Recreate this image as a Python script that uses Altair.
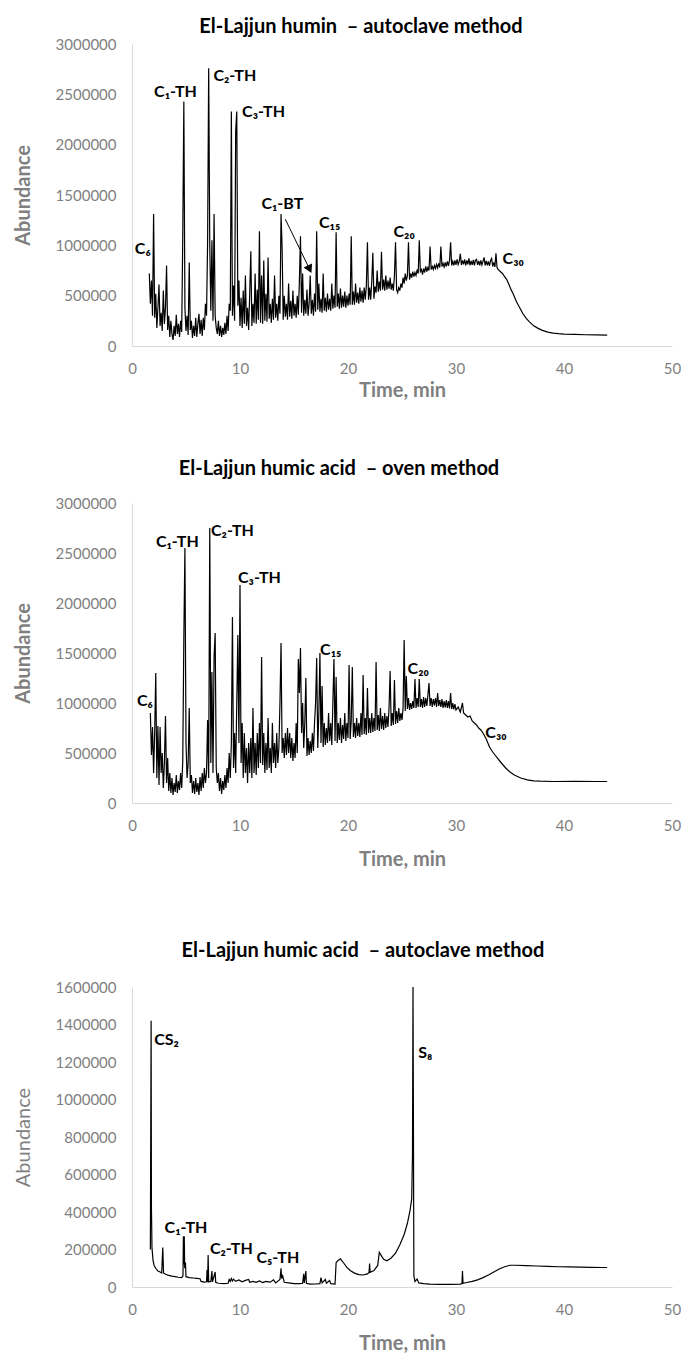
import altair as alt
import pandas as pd

# ---------------- Panel 1: El-Lajjun humin - autoclave ----------------
P1_START, P1_STEP = 1.6, 0.1
P1_K = [
    720, 420, 650, 300, 1310, 280, 520, 180, 380, 610,
    200, 330, 150, 550, 220, 380, 800, 160, 300, 90,
    250, 120, 60, 200, 100, 310, 120, 220, 90, 250,
    140, 1080, 2430, 380, 150, 300, 110, 830, 160, 250,
    80, 200, 100, 280, 90, 220, 320, 120, 260, 100,
    280, 160, 420, 300, 1030, 2760, 1000, 350, 1050, 250,
    1310, 300, 180, 120, 250, 100, 200, 90, 180, 110,
    230, 120, 300, 150, 420, 350, 2330, 300, 600, 250,
    2130, 2330, 400, 650, 200, 480, 180, 550, 220, 700,
    200, 380, 160, 520, 940, 200, 420, 230, 720, 220,
    560, 260, 1140, 230, 700, 220, 850, 250, 520, 240,
    880, 270, 420, 230, 470, 260, 700, 280, 420, 250,
    500, 320, 1310, 970, 260, 500, 290, 420, 260, 620,
    290, 450, 270, 550, 300, 420, 280, 500, 310, 650,
    1090, 330, 720, 300, 460, 320, 560, 300, 420, 700,
    320, 460, 300, 520, 340, 1140, 360, 620, 340, 470,
    330, 720, 350, 480, 340, 520, 360, 470, 350, 620,
    370, 500, 380, 1130, 390, 520, 370, 570, 380, 500,
    390, 540, 380, 500, 400, 520, 410, 1090, 410, 540,
    410, 620, 430, 530, 420, 580, 440, 550, 430, 580,
    460, 600, 1030, 460, 580, 460, 640, 927, 470, 590,
    530, 750, 540, 640, 550, 937, 560, 660, 550, 700,
    560, 650, 570, 680, 560, 620, 550, 700, 1030, 560,
    530, 580, 550, 620, 580, 680, 620, 720, 650, 700,
    1030, 660, 720, 680, 740, 690, 730, 700, 760, 720,
    1050, 740, 760, 710, 770, 730, 790, 740, 780, 750,
    987, 760, 790, 760, 800, 770, 810, 775, 820, 780,
    987, 790, 820, 785, 830, 790, 840, 795, 850, 1030,
    800, 840, 800, 850, 805, 860, 810, 840, 917, 805,
    850, 810, 860, 800, 850, 810, 870, 800, 845, 805,
    855, 800, 850, 860, 805, 845, 800, 850, 805, 840,
    880, 800, 845, 800, 840, 795, 850, 870, 790, 830,
    785, 920, 780, 760,
]
P1_TAIL_T = [34.1, 34.3, 34.5, 34.7, 34.9, 35.1, 35.3, 35.6, 35.9, 36.2, 36.5, 36.8,
             37.2, 37.6, 38.0, 38.5, 39.0, 39.5, 40.0, 41.0, 42.0, 43.0, 44.0]
P1_TAIL_K = [740, 720, 690, 660, 610, 560, 516, 440, 380, 320, 275, 240,
             200, 175, 155, 138, 128, 122, 118, 115, 112, 110, 108]
P1_LABELS = ["C₆", "C₁-TH", "C₂-TH", "C₃-TH", "C₁-BT", "C₁₅", "C₂₀", "C₃₀"]
P1_LABEL_T = [1.0, 4.03, 9.52, 12.18, 13.92, 18.3, 25.2, 35.3]
P1_LABEL_K = [964, 2520, 2680, 2320, 1410, 1220, 1130, 864]
P1_ARROW_T = [14.19, 16.39]
P1_ARROW_K = [1260, 775]

# ---------------- Panel 2: El-Lajjun humic acid - oven ----------------
P2_START, P2_STEP = 1.7, 0.1
P2_K = [
    900, 480, 760, 300, 700, 1300, 250, 770, 180, 760,
    300, 500, 150, 400, 870, 200, 450, 120, 300, 100,
    250, 80, 200, 110, 280, 100, 220, 130, 300, 150,
    420, 1650, 2550, 600, 250, 400, 950, 200, 280, 100,
    220, 90, 250, 110, 200, 80, 260, 120, 300, 150,
    350, 200, 300, 830, 250, 2750, 400, 1310, 300, 1460,
    1700, 350, 200, 300, 120, 250, 90, 220, 130, 280,
    150, 350, 200, 500, 250, 600, 1860, 350, 700, 300,
    1000, 1680, 600, 2180, 400, 800, 250, 700, 300, 550,
    200, 600, 300, 650, 250, 950, 300, 600, 280, 700,
    350, 800, 400, 1460, 380, 700, 300, 600, 330, 850,
    350, 550, 300, 800, 400, 600, 350, 700, 400, 550,
    1000, 1600, 500, 650, 450, 700, 480, 750, 500, 700,
    450, 650, 420, 600, 450, 800, 500, 1440, 1100, 1550,
    700, 1000, 550, 800, 1250, 470, 650, 480, 620, 500,
    700, 520, 800, 1000, 1450, 550, 900, 1500, 600, 1170,
    560, 800, 580, 750, 600, 900, 620, 800, 580, 1000,
    1440, 620, 1260, 600, 800, 630, 850, 600, 780, 640,
    900, 620, 800, 650, 1380, 640, 820, 1360, 660, 800,
    650, 850, 670, 800, 660, 900, 680, 1280, 690, 850,
    680, 1150, 700, 850, 700, 900, 710, 850, 720, 1410,
    730, 880, 720, 950, 740, 870, 730, 900, 750, 870,
    760, 950, 1320, 770, 900, 780, 1230, 790, 920, 800,
    950, 820, 900, 830, 950, 1630, 920, 1270, 940, 1050,
    930, 1000, 940, 1020, 950, 1240, 950, 1050, 960, 1240,
    960, 1040, 950, 1060, 960, 1050, 970, 1080, 1200, 970,
    1050, 960, 1040, 975, 1050, 960, 1100, 970, 1030, 960,
    1040, 950, 1020, 955, 1030, 950, 1020, 945, 1100, 940,
    1000, 935, 990, 930,
]
P2_TAIL_T = [30.2, 30.4, 30.6, 30.7, 30.9, 31.1, 31.3, 31.5, 31.7, 31.9, 32.1, 32.3,
             32.5, 32.8, 33.1, 33.4, 33.75, 34.2, 34.6, 35.0, 35.4, 36.0, 36.6,
             37.2, 37.8, 39.0, 41.0, 43.0, 44.0]
P2_TAIL_K = [960, 910, 1000, 900, 880, 860, 870, 820, 800, 780, 750, 730,
             700, 640, 560, 510, 460, 400, 350, 310, 280, 250, 232,
             222, 218, 215, 216, 215, 215]
P2_LABELS = ["C₆", "C₁-TH", "C₂-TH", "C₃-TH", "C₁₅", "C₂₀", "C₃₀"]
P2_LABEL_T = [1.19, 4.2, 9.3, 11.8, 18.4, 26.5, 33.7]
P2_LABEL_K = [1020, 2610, 2720, 2250, 1530, 1340, 700]

# ---------------- Panel 3: El-Lajjun humic acid - autoclave ----------------
P3_T = [1.70, 1.77, 1.80, 1.85, 1.95, 2.05, 2.20, 2.40, 2.60, 2.75, 2.85, 2.92,
        3.10, 3.40, 3.70, 4.00, 4.30, 4.60, 4.72, 4.76, 4.80, 4.84, 4.88, 4.95,
        5.00, 5.30, 5.70, 6.00, 6.30, 6.40, 6.70, 6.90, 6.95, 7.00, 7.05, 7.10,
        7.30, 7.40, 7.45, 7.70, 7.75, 8.00, 8.50, 8.90, 9.00, 9.10, 9.20, 9.30,
        9.40, 9.60, 9.90, 10.20, 10.50, 10.80, 10.90, 11.20, 11.50, 11.80, 12.10,
        12.40, 12.80, 13.10, 13.30, 13.70, 13.80, 13.85, 13.95, 14.10, 14.50,
        15.00, 15.50, 15.80, 15.90, 15.95, 16.10, 16.15, 16.50, 17.00, 17.40,
        17.50, 17.60, 17.90, 18.00, 18.30, 18.40, 18.80, 18.90, 19.05, 19.30,
        19.60, 19.90, 20.20, 20.60, 21.00, 21.40, 21.80, 21.95, 22.00, 22.05,
        22.40, 22.75, 22.90, 23.00, 23.30, 23.60, 24.00, 24.40, 24.80, 25.20,
        25.50, 25.75, 25.90, 25.97, 26.02, 26.10, 26.20, 26.40, 26.55, 27.00,
        27.60, 28.50, 29.50, 30.40, 30.55, 30.60, 30.65, 31.00, 31.50, 32.00,
        32.50, 33.00, 33.50, 34.00, 34.50, 35.00, 35.50, 36.50, 37.50, 38.50,
        39.50, 40.50, 41.50, 42.50, 43.50, 44.00]
P3_K = [200, 1420, 420, 210, 140, 115, 100, 85, 80, 75, 210, 75,
        68, 62, 58, 55, 52, 50, 60, 270, 120, 270, 100, 130,
        55, 50, 48, 46, 44, 30, 26, 28, 90, 25, 170, 28,
        30, 85, 28, 80, 25, 20, 18, 20, 40, 30, 45, 32,
        42, 30, 38, 28, 35, 40, 25, 30, 25, 32, 24,
        30, 26, 38, 22, 40, 100, 45, 60, 25, 22,
        18, 18, 20, 70, 22, 85, 20, 15, 16, 18,
        50, 22, 40, 20, 35, 18, 16, 130, 140, 150,
        128, 105, 88, 74, 66, 64, 70, 78, 125, 78,
        88, 115, 185, 175, 148, 140, 155, 180, 225, 280,
        340, 410, 470, 700, 1600, 60, 30, 42, 22, 18,
        15, 14, 14, 15, 18, 85, 20, 24, 30, 38,
        50, 64, 80, 96, 108, 116, 116, 114, 112, 110,
        108, 107, 106, 105, 104, 104]
P3_LABELS = ["CS₂", "S₈", "C₁-TH", "C₂-TH", "C₅-TH"]
P3_LABEL_T = [3.2, 27.16, 5.0, 9.2, 13.5]
P3_LABEL_K = [1317, 1250, 315, 203, 155]

TITLES = ["El-Lajjun humin\u00a0 – autoclave method",
          "El-Lajjun humic acid\u00a0 – oven method",
          "El-Lajjun humic acid\u00a0 – autoclave method"]

FONT = "Lato"
GRAY = "#7f7f7f"
AXIS_LINE = "#d9d9d9"
PLOT_W = 540


def grid_frame(start, step, vals_k, tail_t, tail_k):
    t = [round(start + i * step, 2) for i in range(len(vals_k))] + list(tail_t)
    v = [k * 1000 for k in list(vals_k) + list(tail_k)]
    return pd.DataFrame({"t": t, "v": v})


def label_frame(labels, ts, ks):
    return pd.DataFrame({"label": labels, "t": ts, "v": [k * 1000 for k in ks]})


def panel(df, labels_df, title, title_dx, title_offset, ymax, ystep,
          ytitle_bold, xtitle_pad, height, arrow_df=None):
    xscale = alt.Scale(domain=[0, 50], nice=False)
    yscale = alt.Scale(domain=[0, ymax], nice=False)
    yvals = [float(v) for v in range(0, ymax + 1, ystep)]
    xaxis = alt.Axis(values=[0, 10, 20, 30, 40, 50], title="Time, min", grid=False,
                     ticks=False, labelFlush=False, labelOverlap=False,
                     domainColor=AXIS_LINE,
                     labelColor=GRAY, labelFont=FONT, labelFontSize=15, labelPadding=15,
                     titleFont=FONT, titleFontSize=20, titleFontWeight="bold",
                     titleColor=GRAY, titlePadding=xtitle_pad)
    yaxis = alt.Axis(values=yvals, tickCount=len(yvals), format="d", title="Abundance",
                     grid=False, ticks=False, labelOverlap=False, labelSeparation=0,
                     domainColor=AXIS_LINE, labelColor=GRAY,
                     labelFont=FONT, labelFontSize=15, labelPadding=16,
                     titleFont=FONT, titleFontSize=20,
                     titleFontWeight="bold" if ytitle_bold else "normal",
                     titleColor=GRAY, titlePadding=22)
    line = alt.Chart(df).mark_line(color="black", strokeWidth=1.2).encode(
        x=alt.X("t:Q", scale=xscale, axis=xaxis),
        y=alt.Y("v:Q", scale=yscale, axis=yaxis),
    )
    text = alt.Chart(labels_df).mark_text(font=FONT, fontSize=16, fontWeight="bold",
                                          color="black", align="center",
                                          baseline="middle").encode(
        x=alt.X("t:Q", scale=xscale, axis=xaxis), y=alt.Y("v:Q", scale=yscale, axis=yaxis),
        text="label:N")
    layers = [line, text]
    if arrow_df is not None:
        rule = alt.Chart(arrow_df).mark_rule(color="black", strokeWidth=1).encode(
            x=alt.X("t0:Q", scale=xscale, axis=xaxis), y=alt.Y("v0:Q", scale=yscale, axis=yaxis),
            x2="t1:Q", y2="v1:Q")
        head = alt.Chart(arrow_df).mark_point(shape="triangle", filled=True, color="black",
                                              opacity=1, size=90, angle=154).encode(
            x=alt.X("t1:Q", scale=xscale, axis=xaxis), y=alt.Y("v1:Q", scale=yscale, axis=yaxis))
        layers += [rule, head]
    return alt.layer(*layers).properties(
        width=PLOT_W, height=height,
        view=alt.ViewBackground(stroke="transparent", strokeWidth=0),
        title=alt.TitleParams(title, font=FONT, fontSize=20, fontWeight="bold",
                              color="black", dx=title_dx, offset=title_offset),
    )


df1 = grid_frame(P1_START, P1_STEP, P1_K, P1_TAIL_T, P1_TAIL_K)
df2 = grid_frame(P2_START, P2_STEP, P2_K, P2_TAIL_T, P2_TAIL_K)
df3 = pd.DataFrame({"t": P3_T, "v": [k * 1000 for k in P3_K]})
arrow1 = pd.DataFrame({"t0": [P1_ARROW_T[0]], "v0": [P1_ARROW_K[0] * 1000],
                       "t1": [P1_ARROW_T[1]], "v1": [P1_ARROW_K[1] * 1000]})

c1 = panel(df1, label_frame(P1_LABELS, P1_LABEL_T, P1_LABEL_K), TITLES[0], -41, 0,
           3000000, 500000, True, 4, 302, arrow1)
c2 = panel(df2, label_frame(P2_LABELS, P2_LABEL_T, P2_LABEL_K), TITLES[1], -63, 17,
           3000000, 500000, True, 16, 300)
c3 = panel(df3, label_frame(P3_LABELS, P3_LABEL_T, P3_LABEL_K), TITLES[2], -39, 19,
           1600000, 200000, False, 16, 300)

chart = alt.vconcat(alt.vconcat(c1, c2, spacing=59), c3, spacing=72).properties(
    padding={"left": 5, "top": 9, "right": 0, "bottom": 0}, background="white"
).configure_view(stroke="transparent", strokeWidth=0)

chart.save("out.html", embed_options={"renderer": "svg", "actions": False})
